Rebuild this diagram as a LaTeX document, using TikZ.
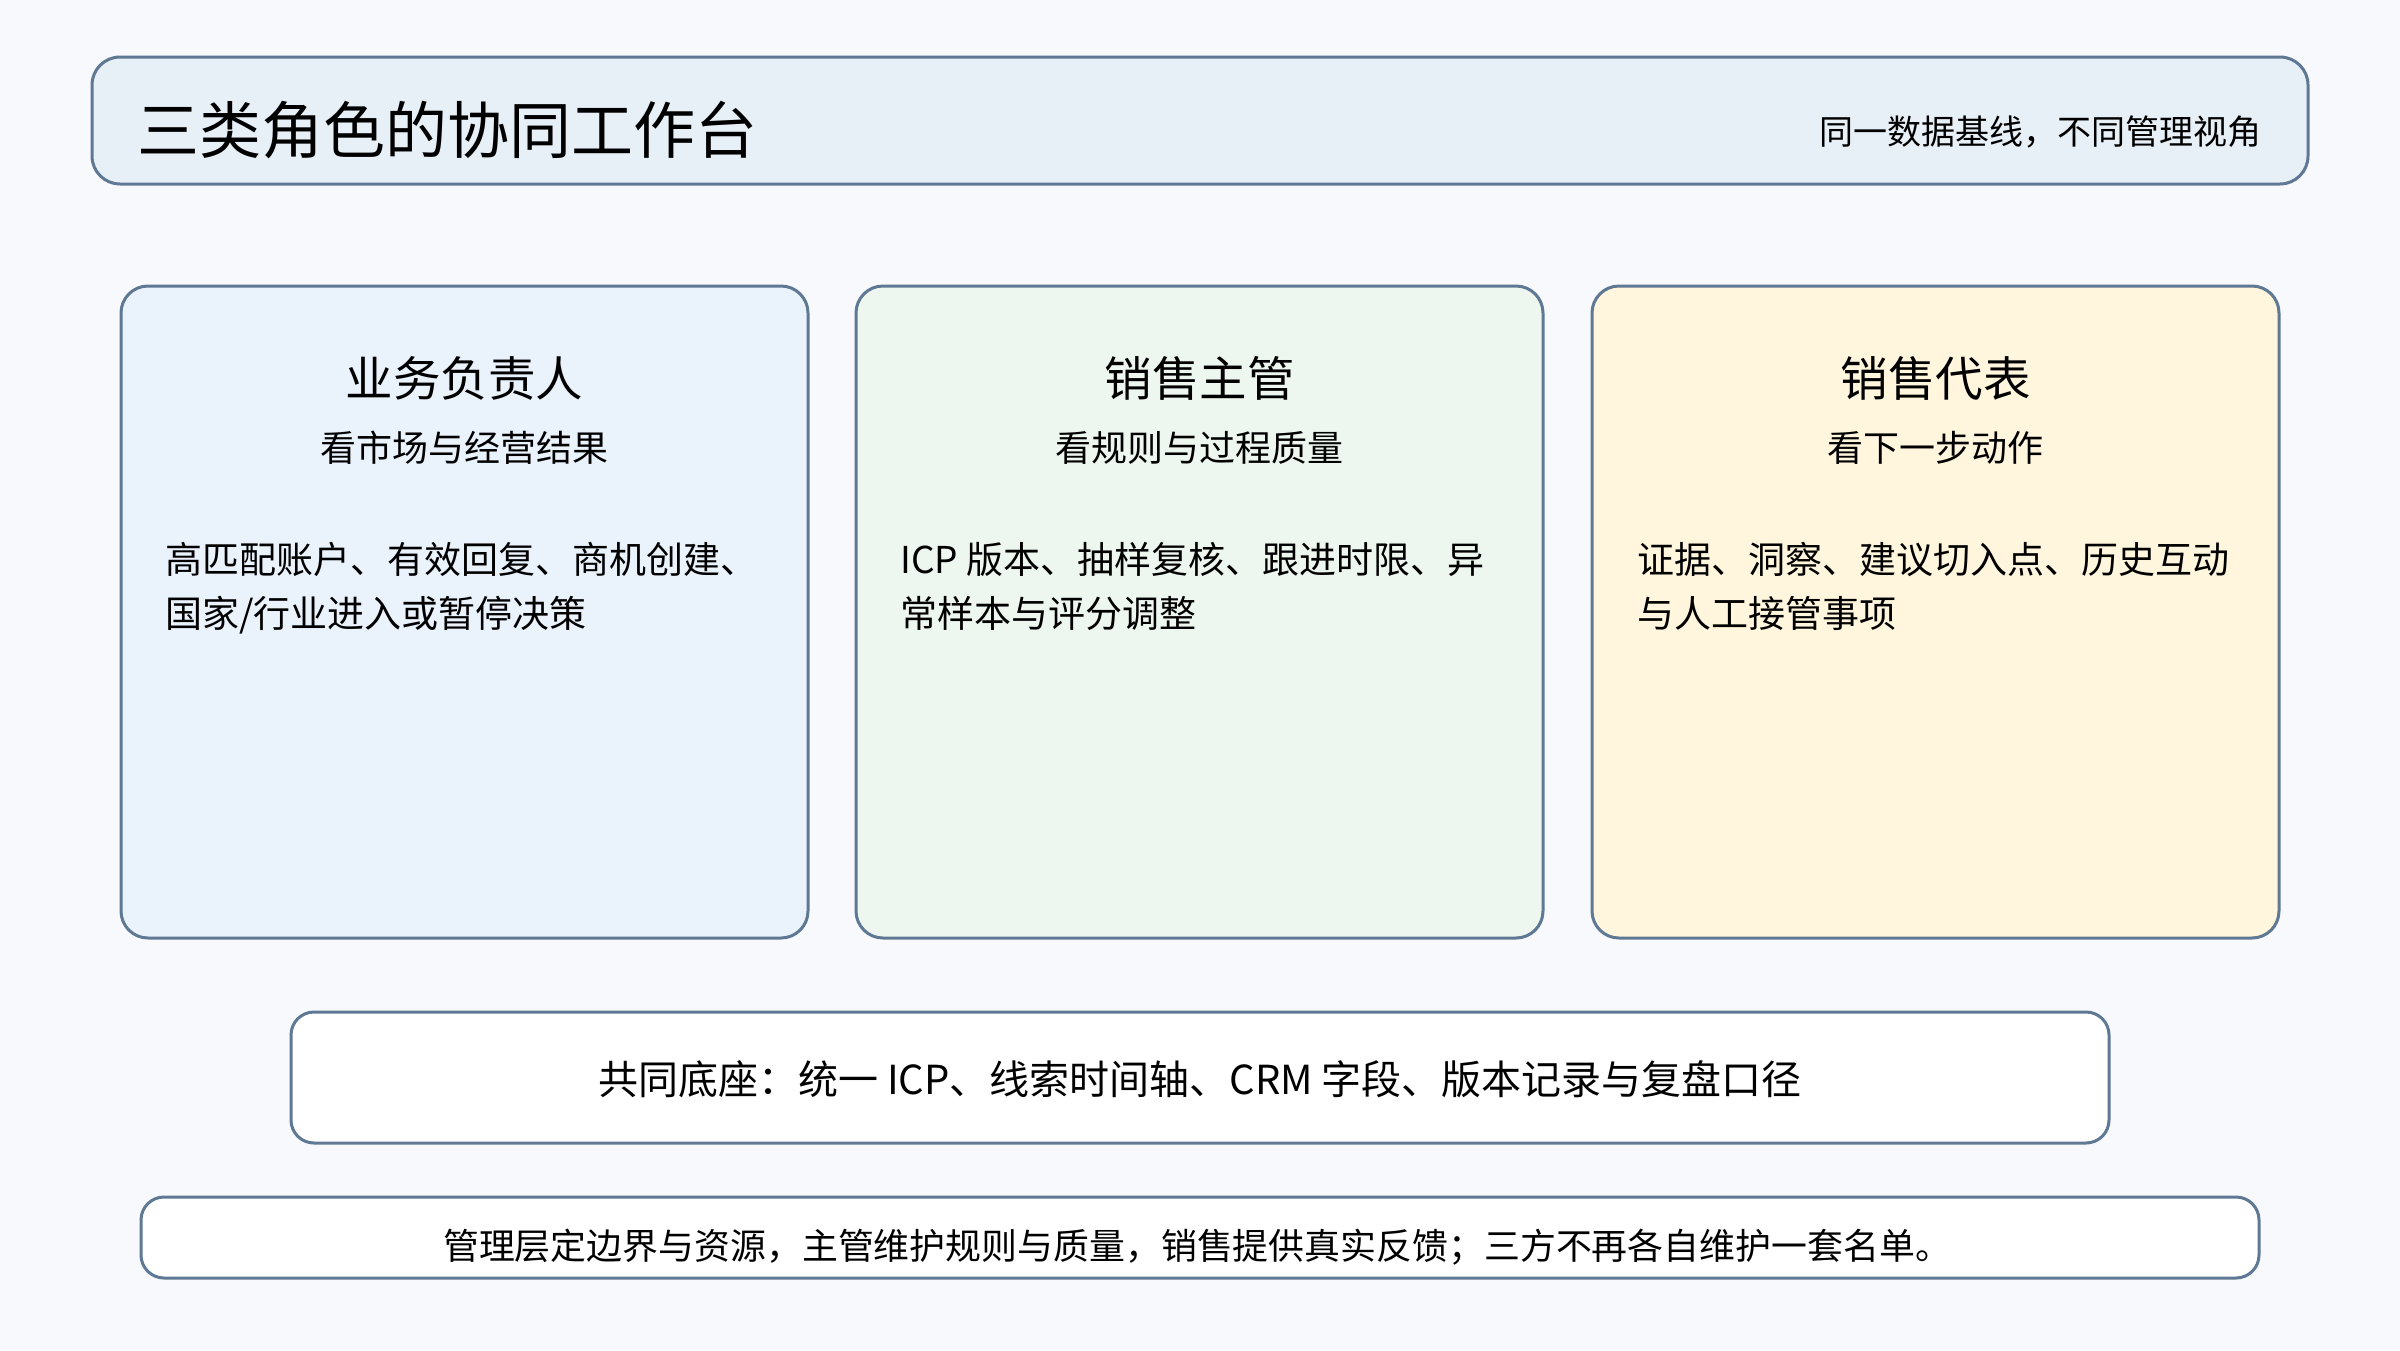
\documentclass[tikz,border=0pt]{standalone}
\usepackage{fontspec}
\setmainfont{Noto Sans CJK SC}
\usetikzlibrary{positioning}
\definecolor{pagebg}{HTML}{F7F9FD}
\definecolor{edgeslate}{HTML}{5F7894}
\definecolor{headfill}{HTML}{E7EFF7}
\definecolor{ownerfill}{HTML}{EAF2FC}
\definecolor{leadfill}{HTML}{EEF7EF}
\definecolor{repfill}{HTML}{FFF6DD}

\begin{document}
\begin{tikzpicture}[x=1pt, y=-1pt,
    panel/.style={draw=edgeslate, line width=3pt, inner sep=0pt},
    card/.style={panel, rounded corners=27pt, minimum width=687pt, minimum height=652pt},
    cardtitle/.style={inner sep=0pt, font=\fontsize{47.5}{57}\selectfont},
    cardsub/.style={inner sep=0pt, font=\fontsize{36}{44}\selectfont},
    cardbody/.style={inner sep=0pt, anchor=north west, align=left, font=\fontsize{37}{54}\selectfont}]
        % Page
        \fill[pagebg] (0,0) rectangle (2400,1350);
        
        % Header
        \node[panel, fill=headfill, rounded corners=28pt, minimum width=2216pt, minimum height=127pt] (header) at (1200,120.5) {};
        \node[anchor=west, inner sep=0pt, font=\fontsize{62}{72}\selectfont] (headtitle) at (137,130) {三类角色的协同工作台};
        \node[anchor=east, inner sep=0pt, font=\fontsize{34}{42}\selectfont] (headnote) at (2262,132) {同一数据基线，不同管理视角};
        
        % Role cards
        \node[card, fill=ownerfill] (owner) at (464.5,612) {};
        \node[card, fill=leadfill] (lead) at (1199.5,612) {};
        \node[card, fill=repfill] (rep) at (1935.5,612) {};
        
        \node[cardtitle] (ownertitle) at (464.5,378) {业务负责人};
        \node[cardsub] (ownersub) at (464.5,448) {看市场与经营结果};
        \node[cardbody] (ownerbody) at (165,542) {高匹配账户、有效回复、商机创建、\\国家/行业进入或暂停决策};
        
        \node[cardtitle] (leadtitle) at (1199.5,378) {销售主管};
        \node[cardsub] (leadsub) at (1199.5,448) {看规则与过程质量};
        \node[cardbody] (leadbody) at (900,542) {ICP 版本、抽样复核、跟进时限、异\\常样本与评分调整};
        
        \node[cardtitle] (reptitle) at (1935.5,378) {销售代表};
        \node[cardsub] (repsub) at (1935.5,448) {看下一步动作};
        \node[cardbody] (repbody) at (1637,542) {证据、洞察、建议切入点、历史互动\\与人工接管事项};
        
        % Shared base
        \node[panel, fill=white, rounded corners=23pt, minimum width=1818pt, minimum height=131pt] (base) at (1200,1077.5) {};
        \node[inner sep=0pt, font=\fontsize{40}{48}\selectfont] (basetext) at (1200,1079) {共同底座：统一 ICP、线索时间轴、CRM 字段、版本记录与复盘口径};
        
        % Closing note
        \node[panel, fill=white, rounded corners=23pt, minimum width=2118pt, minimum height=81pt] (note) at (1200,1237.5) {};
        \node[inner sep=0pt, font=\fontsize{35.9}{43}\selectfont] (notetext) at (1197,1247) {管理层定边界与资源，主管维护规则与质量，销售提供真实反馈；三方不再各自维护一套名单。};
\end{tikzpicture}
\end{document}
